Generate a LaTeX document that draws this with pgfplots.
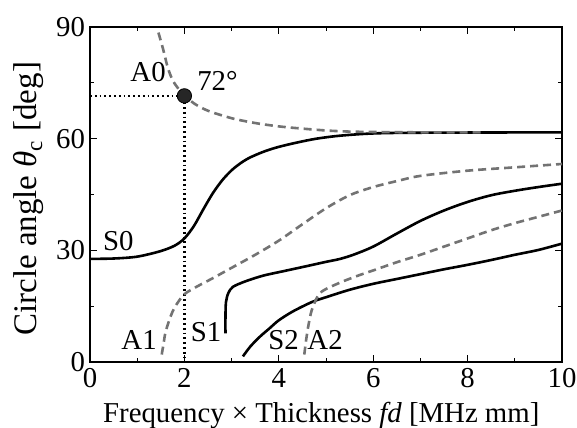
\documentclass[border=0pt]{standalone}
\usepackage{fontspec}
\setmainfont{Liberation Serif}
\usepackage{pgfplots}
\pgfplotsset{compat=1.18}

\definecolor{modegray}{gray}{0.45}

\begin{document}
\fontsize{14.4}{17}\selectfont
\begin{tikzpicture}
    \begin{axis}[
        name = ax,
        % Plot dimensions
        scale only axis,
        width  = 236pt,
        height = 167.5pt,
        % Axes
        xmin = 0, xmax = 10,
        ymin = 0, ymax = 90,
        xtick = {0,2,...,10},
        ytick = {0,30,60,90},
        minor xtick = {1,3,...,9},
        minor ytick = {15,45,75},
        tick align = inside,
        major tick length = 3.5pt,
        minor tick length = 2pt,
        tick style = {black, line width = 0.5pt},
        axis line style = {line width = 0.6pt},
        /pgf/number format/assume math mode = true,
        ticklabel style = {font = \fontsize{14.4}{17}\selectfont},
        xticklabel style = {anchor = base, yshift = -13pt},
        yticklabel style = {xshift = 2.5pt},
        % Labels
        xlabel = {Frequency × Thickness \textit{fd} [MHz mm]},
        ylabel = {Circle angle {\itshape θ}\textsubscript{c} [deg]},
        xlabel style = {font = \fontsize{14.4}{17}\selectfont,
                        at = {([yshift=-30.5pt]axis description cs:0.49,0)}, anchor = base},
        ylabel style = {font = \fontsize{16.5}{19}\selectfont,
                        at = {([xshift=-26.5pt]axis description cs:0,0.487)}, anchor = base},
        clip = false,
    ]

        % Guide lines to the marked point
        \addplot[black, line width = 1.1pt, dash pattern = on 0.9pt off 1.5pt] coordinates {(0,71.5) (2,71.5) (2,0)};

        % S0
        \addplot[black, line width = 1.3pt, smooth] coordinates {
            (0,27.7) (0.5,27.8) (1,28.3) (1.5,29.8) (1.8,31.3) (2,33.2)
            (2.2,36.5) (2.4,41) (2.6,45.3) (2.8,48.8) (3,51.5) (3.2,53.5)
            (3.4,55) (3.7,56.6) (4,57.8) (4.4,59) (4.8,60) (5.3,60.8)
            (6,61.4) (7,61.6) (10,61.7)
        };

        % A0
        \addplot[modegray, line width = 1.3pt, dash pattern = on 4pt off 2.5pt, smooth] coordinates {
            (1.45,88.5) (1.55,84) (1.65,79) (1.76,75.5) (1.9,73) (2,71.8)
            (2.2,69.5) (2.5,67.5) (3,65.5) (3.5,64.2) (4,63.3) (4.5,62.7)
            (5,62.2) (5.5,61.9) (6,61.8) (7,61.7) (8.3,61.7)
        };

        % A1
        \addplot[modegray, line width = 1.3pt, dash pattern = on 4pt off 2.5pt, smooth] coordinates {
            (1.52,2) (1.56,5) (1.6,8) (1.7,12) (1.8,14.8) (2,18.2) (2.3,20.5)
            (2.6,22.5) (3,25.3) (3.5,28.8) (4,32.6) (4.5,37) (5,41.3) (5.5,44.8)
            (6,47) (6.5,48.6) (7,50) (8,51.4) (9,52.3) (10,53.2)
        };

        % S1
        \addplot[black, line width = 1.3pt, smooth] coordinates {
            (2.87,7.7) (2.87,12) (2.88,16) (2.93,18.5) (3.03,20.2) (3.3,21.7)
            (3.67,23.2) (4.1,24.4) (4.5,25.5) (5,26.9) (5.3,27.7) (5.6,28.9)
            (6,31) (6.5,34.5) (7,37.9) (7.5,40.7) (8,43) (8.5,44.8) (9,46)
            (9.5,47) (10,47.9)
        };

        % S2
        \addplot[black, line width = 1.3pt, smooth] coordinates {
            (3.24,1.5) (3.4,4.2) (3.6,6.8) (3.8,9) (4,11.2) (4.3,13.6)
            (4.7,16.1) (5,17.4) (5.5,19.4) (6,21) (6.5,22.3) (7,23.6)
            (7.5,24.9) (8,26.1) (8.5,27.4) (9,28.8) (9.5,30.1) (10,31.8)
        };

        % A2
        \addplot[modegray, line width = 1.3pt, dash pattern = on 4pt off 2.5pt, smooth] coordinates {
            (4.54,2) (4.58,6) (4.63,10) (4.7,14) (4.84,18) (5,19.6) (5.35,21.6)
            (5.7,23.3) (6,24.6) (6.5,26.8) (7,28.8) (7.5,31) (8,33.2) (8.5,35.4)
            (9,37.3) (9.5,39) (10,40.7)
        };

        % Marked point
        \addplot[only marks, mark = *, mark size = 3.6pt, draw = black, fill = black!85] coordinates {(2,71.5)};

        % Mode labels
        \node at (axis cs:1.23,78) {A0};
        \node at (axis cs:2.7,75.5) {72°};
        \node at (axis cs:0.6,32.5) {S0};
        \node at (axis cs:1.04,6) {A1};
        \node at (axis cs:2.46,8) {S1};
        \node at (axis cs:4.1,6) {S2};
        \node at (axis cs:4.98,6) {A2};
    \end{axis}
    \pgfresetboundingbox
    \path[use as bounding box] ([shift={(-45pt,-33pt)}]ax.south west)
        rectangle ([shift={(7.5pt,13.5pt)}]ax.north east);
\end{tikzpicture}
\end{document}
